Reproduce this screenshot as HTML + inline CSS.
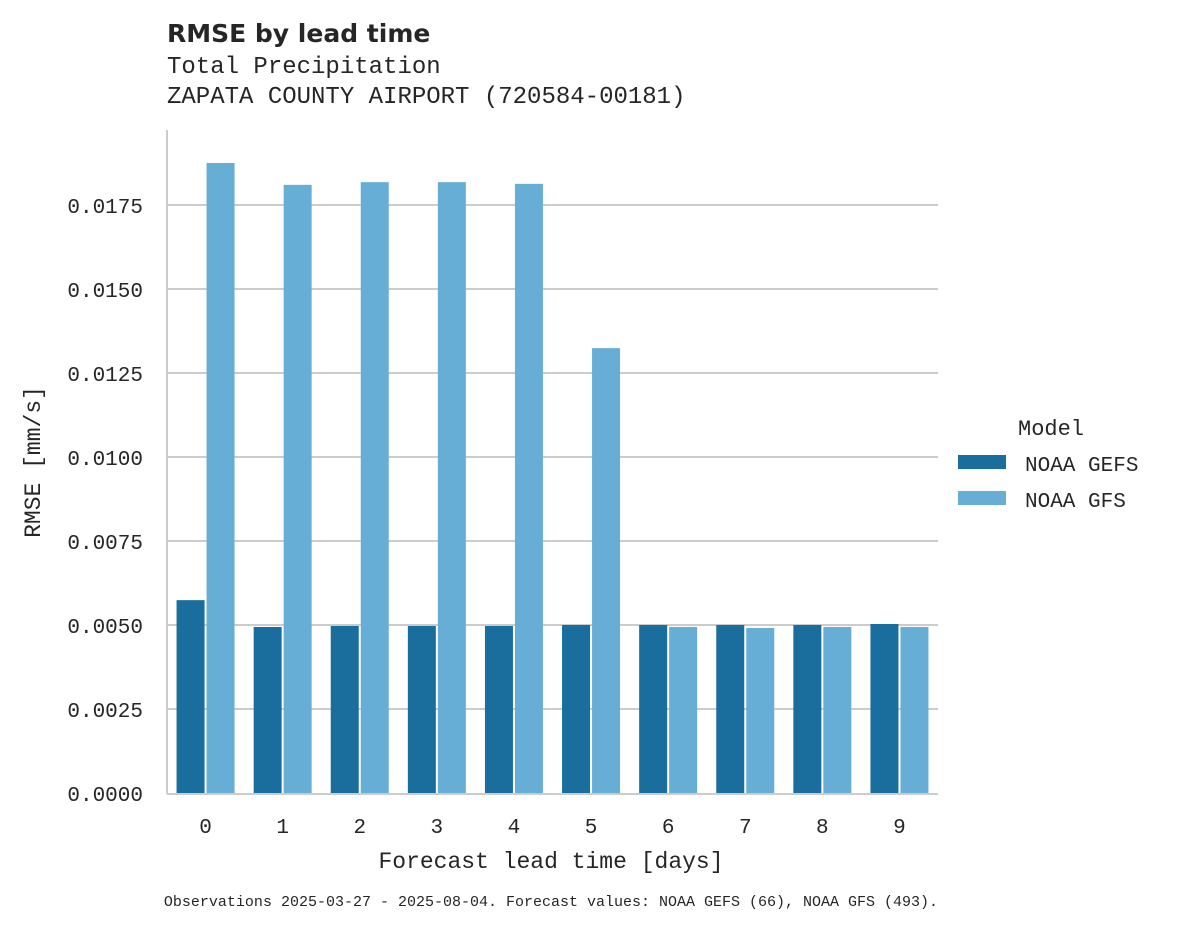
<!DOCTYPE html>
<html><head><meta charset="utf-8"><style>
body{margin:0;background:#fff;}
svg text{font-family:"Liberation Mono","DejaVu Sans Mono",monospace;fill:#262626;}
</style></head><body>
<svg id="chart" width="1178" height="928" xmlns="http://www.w3.org/2000/svg">
<text x="167" y="42" style="font-family:'DejaVu Sans','Liberation Sans',sans-serif;font-weight:bold;font-size:25px">RMSE by lead time</text>
<text x="167" y="73" font-size="24">Total Precipitation</text>
<text x="167" y="103" font-size="24">ZAPATA COUNTY AIRPORT (720584-00181)</text>
<g id="grid"></g>
<g id="bars"></g>
<g id="axes"></g>
<text transform="translate(40,462) rotate(-90)" text-anchor="middle" font-size="23">RMSE [mm/s]</text>
<text x="551" y="868" text-anchor="middle" font-size="23">Forecast lead time [days]</text>
<g>
<text x="1018" y="435" font-size="22">Model</text>
<rect x="958" y="455" width="48" height="14" fill="#1a6e9e"/>
<text x="1025" y="471" font-size="21">NOAA GEFS</text>
<rect x="958" y="491" width="48" height="14" fill="#67aed6"/>
<text x="1025" y="507" font-size="21">NOAA GFS</text>
</g>
<text x="551" y="906" text-anchor="middle" font-size="15">Observations 2025-03-27 - 2025-08-04. Forecast values: NOAA GEFS (66), NOAA GFS (493).</text>
</svg>
<script>
const categories=[0,1,2,3,4,5,6,7,8,9];
const gefsValues=[0.00574,0.00494,0.00497,0.00497,0.00497,0.00500,0.00500,0.00500,0.00500,0.00503];
const gfsValues=[0.01875,0.01810,0.01818,0.01818,0.01813,0.01324,0.00494,0.00491,0.00494,0.00494];
const yTicks=[0,0.0025,0.005,0.0075,0.01,0.0125,0.015,0.0175];
const yTickLabels=["0.0000","0.0025","0.0050","0.0075","0.0100","0.0125","0.0150","0.0175"];
const NS="http://www.w3.org/2000/svg";
const L=167,R=938,T=130,B=793;
const y=v=>B-v/0.0025*84;
const step=(R-L)/categories.length;
const xc=i=>L+step*(i+0.5);
function mk(tag,attrs,parent){const e=document.createElementNS(NS,tag);for(const k in attrs)e.setAttribute(k,attrs[k]);parent.appendChild(e);return e;}
const grid=document.getElementById('grid'),bars=document.getElementById('bars'),axes=document.getElementById('axes');
yTicks.forEach((t,i)=>{
  if(t>0){const g=mk('line',{x1:L,x2:R,y1:y(t),y2:y(t),stroke:'#cccccc','stroke-width':2},grid);
  
  }
  const tx=mk('text',{x:143,y:y(t)+8,'text-anchor':'end','font-size':21},axes);
  tx.textContent=yTickLabels[i];
  
  
});
const bw=28;
categories.forEach((c,i)=>{
  const a=mk('rect',{x:xc(i)-bw-1,y:y(gefsValues[i]),width:bw,height:B-y(gefsValues[i]),fill:'#1a6e9e'},bars);
  
  
  const b=mk('rect',{x:xc(i)+1,y:y(gfsValues[i]),width:bw,height:B-y(gfsValues[i]),fill:'#67aed6'},bars);
  
  
  const tx=mk('text',{x:xc(i),y:833,'text-anchor':'middle','font-size':21},axes);
  tx.textContent=c;
  
  
});
const ya=mk('line',{x1:L,x2:L,y1:T,y2:B+1,stroke:'#cccccc','stroke-width':2},axes);


const xa=mk('line',{x1:L,x2:R,y1:B+1,y2:B+1,stroke:'#cccccc','stroke-width':2},axes);


</script>
</body></html>
